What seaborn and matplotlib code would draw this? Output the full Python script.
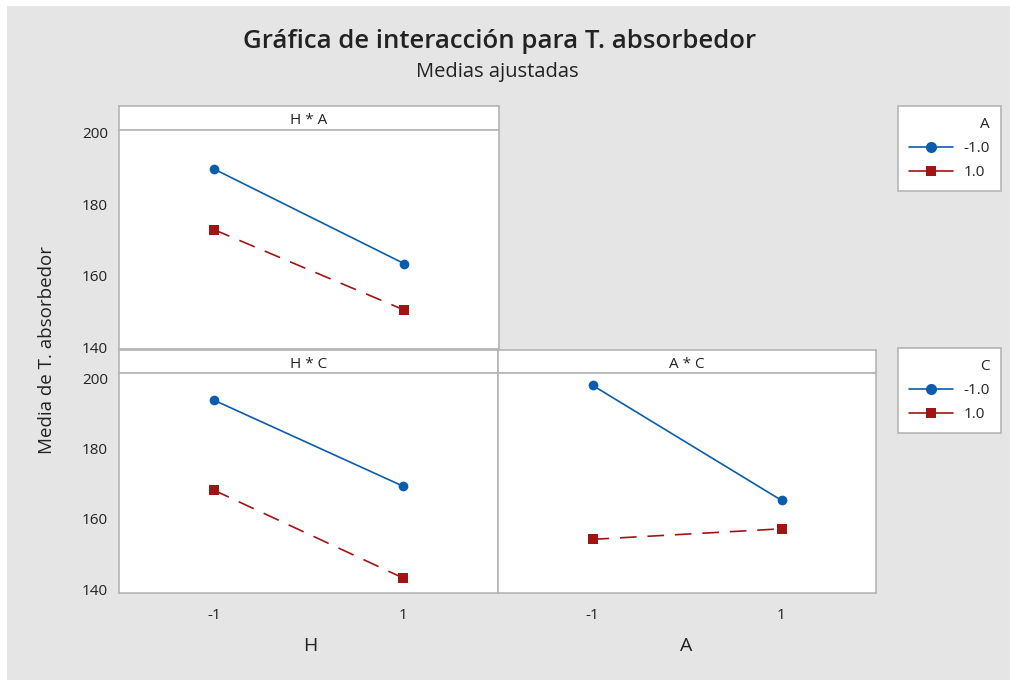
import numpy as np
import pandas as pd
import seaborn as sns
import matplotlib
matplotlib.use("Agg")
import matplotlib.pyplot as plt
from matplotlib.patches import Rectangle
from matplotlib.lines import Line2D

# Adjusted means for each two-factor interaction (factor levels coded -1 / 1)
levels = [-1, 1]
ha_a_low = [189.9, 163.4]   # H*A, A = -1
ha_a_high = [172.9, 150.4]  # H*A, A = 1
hc_c_low = [193.8, 169.3]   # H*C, C = -1
hc_c_high = [168.2, 143.2]  # H*C, C = 1
ac_c_low = [198.0, 165.3]   # A*C, C = -1
ac_c_high = [154.2, 157.2]  # A*C, C = 1
trace_labels = ["-1.0", "1.0"]
yticks = [140, 160, 180, 200]

sns.set_theme(style="white")
plt.rcParams["font.family"] = ["Open Sans", "DejaVu Sans"]

W, H = 1010, 680
fig = plt.figure(figsize=(W / 100, H / 100), dpi=100, facecolor="white")
fig.patches.append(Rectangle((7 / W, 0), 1 - 7 / W, 1 - 6 / H, transform=fig.transFigure,
                             facecolor="#e5e5e5", edgecolor="none", zorder=-10))

BLUE = "#0a5cad"
RED = "#a01414"
EDGE = "#b4b4b4"
TXT = "#222222"
palette = {trace_labels[0]: BLUE, trace_labels[1]: RED}
markers = {trace_labels[0]: "o", trace_labels[1]: "s"}
dashes = {trace_labels[0]: "", trace_labels[1]: (10, 6.5)}
LW = 1.2


def rect(x0, y0, x1, y1):
    return [x0 / W, 1 - y1 / H, (x1 - x0) / W, (y1 - y0) / H]


def make_frame(data, title, x0, x1, ys, ye, ylim, show_y, show_x):
    # strip header
    sax = fig.add_axes(rect(x0, ys, x1, ye))
    sax.set_facecolor("white")
    sax.set_xticks([]); sax.set_yticks([])
    for s in sax.spines.values():
        s.set_color(EDGE); s.set_linewidth(1.2)
    sax.text(0.5, 0.38, title, ha="center", va="center", fontsize=11, color=TXT,
             transform=sax.transAxes)
    # data area
    ax = fig.add_axes(rect(x0, ye, x1, data["bottom"]))
    ax.set_facecolor("white")
    df = data["df"]
    sns.lineplot(data=df, x="x", y="y", hue="trace", style="trace",
                 palette=palette, markers=markers, dashes=dashes,
                 hue_order=trace_labels, style_order=trace_labels,
                 linewidth=LW, markersize=7, markeredgewidth=0,
                 legend=False, ax=ax, zorder=3)
    ax.set_xlim(-2, 2)
    ax.set_ylim(*ylim)
    for s in ax.spines.values():
        s.set_color(EDGE); s.set_linewidth(1.2)
    ax.set_xlabel(""); ax.set_ylabel("")
    ax.tick_params(axis="both", which="both", direction="out", width=1,
                   color="#a0a0a0", labelsize=11, labelcolor=TXT)
    ax.tick_params(axis="y", length=6, pad=2)
    ax.tick_params(axis="x", length=5, pad=6)
    ax.set_yticks(yticks)
    ax.set_xticks(levels)
    ax.set_xticklabels([str(v) for v in levels])
    if not show_y:
        ax.tick_params(axis="y", left=False, labelleft=False)
    if not show_x:
        ax.tick_params(axis="x", bottom=False, labelbottom=False)
    return ax


def frame_data(a, b, bottom):
    df = pd.DataFrame({
        "x": levels + levels,
        "y": a + b,
        "trace": [trace_labels[0]] * 2 + [trace_labels[1]] * 2,
    })
    return {"df": df, "bottom": bottom}


make_frame(frame_data(ha_a_low, ha_a_high, 349), "H * A", 119, 499, 106, 130,
           (139.44, 200.84), True, False)
make_frame(frame_data(hc_c_low, hc_c_high, 593), "H * C", 119, 498, 350, 373,
           (138.95, 201.5), True, True)
make_frame(frame_data(ac_c_low, ac_c_high, 593), "A * C", 498, 876, 350, 373,
           (138.95, 201.5), False, True)

# Titles and axis labels
fig.text(500 / W, 1 - 42 / H, "Gráfica de interacción para T. absorbedor",
         ha="center", va="center", fontsize=18.5, fontweight="semibold", color=TXT)
fig.text(497 / W, 1 - 72 / H, "Medias ajustadas", ha="center", va="center",
         fontsize=14.5, color=TXT)
fig.text(47 / W, 1 - 350 / H, "Media de T. absorbedor", ha="center", va="center",
         rotation=90, fontsize=13.5, color=TXT)
fig.text(310 / W, 1 - 646 / H, "H", ha="center", va="center", fontsize=14, color=TXT)
fig.text(686 / W, 1 - 646 / H, "A", ha="center", va="center", fontsize=14, color=TXT)

# Legends
def handles():
    return [Line2D([], [], color=BLUE, lw=LW, marker="o", markersize=8, markeredgewidth=0),
            Line2D([], [], color=RED, lw=LW, marker="s", markersize=7, markeredgewidth=0)]


for title, ytop in [("A", 106), ("C", 348)]:
    leg = fig.legend(handles(), trace_labels, title=title, loc="upper left",
                     bbox_to_anchor=(898 / W, 1 - ytop / H), bbox_transform=fig.transFigure,
                     borderaxespad=0, frameon=True, fancybox=False, framealpha=1,
                     fontsize=11, title_fontsize=11, handlelength=2.9, handletextpad=0.7,
                     borderpad=0.7, labelspacing=0.6, alignment="right")
    fr = leg.get_frame()
    fr.set_edgecolor(EDGE); fr.set_linewidth(1.2); fr.set_facecolor("white")
    for t in leg.get_texts():
        t.set_color(TXT)
    leg.get_title().set_color(TXT)

fig.savefig("out.png", dpi=100, facecolor=fig.get_facecolor())
